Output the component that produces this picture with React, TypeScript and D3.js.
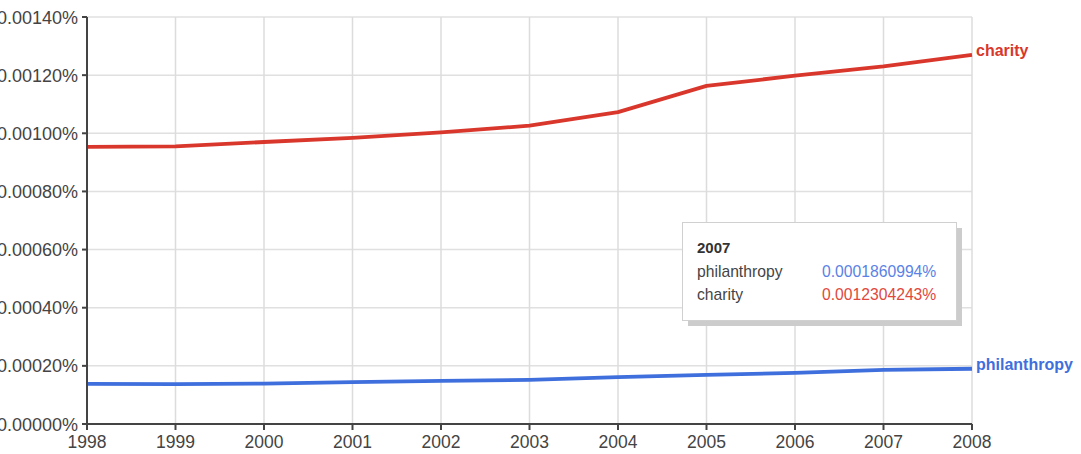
import React from "react";
import * as d3 from "d3";

// values are in percent units (as displayed)
const years = [1998, 1999, 2000, 2001, 2002, 2003, 2004, 2005, 2006, 2007, 2008];
const charity = [0.000953, 0.000955, 0.00097, 0.000984, 0.001003, 0.001026, 0.001073, 0.001163, 0.001198, 0.0012304243, 0.00127];
const philanthropy = [0.000138, 0.000137, 0.000139, 0.000144, 0.000148, 0.000152, 0.000161, 0.000169, 0.000176, 0.0001860994, 0.00019];
const yTicks = [0, 0.0002, 0.0004, 0.0006, 0.0008, 0.001, 0.0012, 0.0014];
const tooltipYear = "2007";
const tooltipRows = [
  { name: "philanthropy", value: "0.0001860994%" },
  { name: "charity", value: "0.0012304243%" },
];

const RED = "#d9372c";
const BLUE = "#3f6fdc";

export default function App() {
  const W = 1081, H = 454;
  const x = d3.scaleLinear().domain([1998, 2008]).range([87, 972]);
  const y = d3.scaleLinear().domain([0, 0.0014]).range([424, 17]);
  const line = d3.line<number>().x((_, i) => x(years[i])).y((d) => y(d));
  const font = "'Liberation Sans', Arial, sans-serif";
  const last = years.length - 1;
  return (
    <svg width={W} height={H} style={{ position: "absolute", left: 0, top: 0, background: "#fff" }} fontFamily={font}>
      {yTicks.map((t) => (
        <line key={"gy" + t} x1={x(1998)} x2={x(2008)} y1={y(t)} y2={y(t)} stroke="#e0e0e0" strokeWidth={1.5} />
      ))}
      {years.map((yr) => (
        <line key={"gx" + yr} x1={x(yr)} x2={x(yr)} y1={y(0)} y2={y(0.0014)} stroke="#dcdcdc" strokeWidth={1.5} />
      ))}
      <path d={line(philanthropy) || ""} fill="none" stroke={BLUE} strokeWidth={3.8} strokeLinejoin="round" />
      <path d={line(charity) || ""} fill="none" stroke={RED} strokeWidth={3.8} strokeLinejoin="round" />
      {/* axes */}
      <line x1={x(1998)} x2={x(1998)} y1={y(0.0014)} y2={y(0) + 5} stroke="#444" strokeWidth={2} />
      <line x1={x(1998) - 5} x2={x(2008)} y1={y(0)} y2={y(0)} stroke="#444" strokeWidth={2} />
      {yTicks.map((t) => (
        <g key={"ty" + t}>
          <line x1={x(1998) - 5} x2={x(1998)} y1={y(t)} y2={y(t)} stroke="#444" strokeWidth={2} />
          <text x={78} y={y(t) + 6.5} textAnchor="end" fontSize={18} fill="#444">
            {d3.format(".5f")(t) + "%"}
          </text>
        </g>
      ))}
      {years.map((yr) => (
        <g key={"tx" + yr}>
          <line x1={x(yr)} x2={x(yr)} y1={y(0)} y2={y(0) + 6} stroke="#444" strokeWidth={2} />
          <text x={x(yr)} y={y(0) + 24} textAnchor="middle" fontSize={17.5} fill="#444">{yr}</text>
        </g>
      ))}
      <text x={x(2008) + 4} y={y(charity[last]) + 1} fontSize={16} fontWeight="bold" fill={RED}>charity</text>
      <text x={x(2008) + 4} y={y(philanthropy[last]) + 1} fontSize={16} fontWeight="bold" fill={BLUE}>philanthropy</text>
      {/* tooltip */}
      <g>
        <rect x={688} y={228} width={274} height={98} fill="#cccccc" />
        <rect x={682.5} y={222.5} width={274} height={98} fill="#fff" stroke="#d0d0d0" strokeWidth={1} />
        <text x={697} y={253} fontSize={15} fontWeight="bold" fill="#333">{tooltipYear}</text>
        {tooltipRows.map((r, i) => (
          <g key={r.name}>
            <text x={697} y={277 + i * 23} fontSize={15.7} fill="#444">{r.name}</text>
            <text x={822} y={277 + i * 23} fontSize={15.7} fill={i === 0 ? "#5a82e6" : "#e0493d"}>{r.value}</text>
          </g>
        ))}
      </g>
    </svg>
  );
}
